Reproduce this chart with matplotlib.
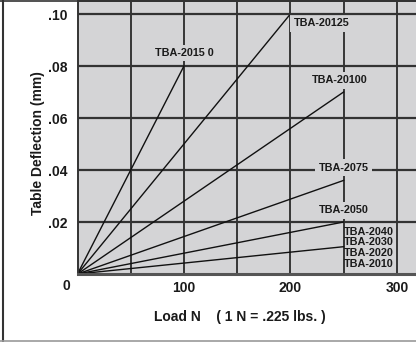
import matplotlib
matplotlib.use('Agg')
import matplotlib.pyplot as plt
from matplotlib.lines import Line2D

plt.rcParams['font.family'] = ['Liberation Sans', 'DejaVu Sans']
plt.rcParams['font.weight'] = 'bold'

# each model: deflection rises linearly from the origin to its end point
models = ['TBA-2015 0', 'TBA-20125', 'TBA-20100', 'TBA-2075', 'TBA-2050', 'TBA-2040']
end_load = [100, 200, 250, 250, 250, 250]
end_defl = [0.08, 0.10, 0.07, 0.036, 0.02, 0.0105]

# labels with a grey box that breaks the grid
boxed_labels = ['TBA-2015 0', 'TBA-20125', 'TBA-20100', 'TBA-2075', 'TBA-2050']
boxed_x = [100, 229, 246, 250, 250]
boxed_y = [0.085, 0.0965, 0.0746, 0.0408, 0.0246]

# stacked labels for the lowest line
stack_labels = ['TBA-2040', 'TBA-2030', 'TBA-2020', 'TBA-2010']
stack_y = [0.0162, 0.0122, 0.0081, 0.0039]

yticks = [0.02, 0.04, 0.06, 0.08, 0.10]
ytick_labels = ['.02', '.04', '.06', '.08', '.10']
xticks = [100, 200, 300]
xgrid = [50, 100, 150, 200, 250, 300]

bg = '#d4d4d6'
gridc = '#2a2a2a'

fig = plt.figure(figsize=(4.16, 3.42), dpi=100)
fig.patch.set_facecolor('white')
ax = fig.add_axes([77.5 / 416, 68 / 342, 1 - 77.5 / 416, 273 / 342])
ax.set_facecolor(bg)
ax.set_xlim(0, 318)
ax.set_ylim(0, 0.105)

for gx in xgrid:
    ax.axvline(gx, color=gridc, lw=1.3, zorder=1)
for gy in yticks:
    # top line stays above the label boxes
    ax.axhline(gy, color='#333333', lw=1.6, zorder=4 if gy == 0.10 else 1)

for name, lx, ly in zip(models, end_load, end_defl):
    ax.plot([0, lx], [0, ly], color='#111111', lw=1.0, zorder=2)

for t, x, y in zip(boxed_labels, boxed_x, boxed_y):
    ax.text(x, y, t, ha='center', va='center', fontsize=7.8, color='#1a1a1a',
            bbox=dict(facecolor=bg, edgecolor='none', pad=2.5), zorder=3)

for t, y in zip(stack_labels, stack_y):
    ax.text(250.5, y, t, ha='left', va='center', fontsize=7.8, color='#1a1a1a', zorder=3)

ax.set_yticks(yticks)
ax.set_yticklabels(ytick_labels)
ax.set_xticks(xticks)
ax.set_xticklabels([str(v) for v in xticks])
ax.tick_params(length=0, labelsize=10, colors='#1a1a1a')
ax.tick_params(axis='y', pad=7)
ax.tick_params(axis='x', pad=5)

for s in ['left', 'top']:
    ax.spines[s].set_color('#333333')
    ax.spines[s].set_linewidth(1.4)
ax.spines['right'].set_visible(False)
ax.spines['bottom'].set_color('#555555')
ax.spines['bottom'].set_linewidth(2.2)

fig.text(66 / 416, 1 - 286 / 342, '0', ha='center', va='center', fontsize=10, color='#1a1a1a')
fig.text(38 / 416, 1 - 143 / 342, 'Table Deflection (mm)', rotation=90, ha='center',
         va='center', fontsize=10, color='#1a1a1a')
fig.text(240 / 416, 1 - 317 / 342, 'Load N    ( 1 N = .225 lbs. )', ha='center',
         va='center', fontsize=10, color='#1a1a1a')

# frame around the whole picture
fig.add_artist(Line2D([3 / 416, 3 / 416], [0, 1], transform=fig.transFigure, color='#333333', lw=1.5))
fig.add_artist(Line2D([0, 1], [0.998, 0.998], transform=fig.transFigure, color='#333333', lw=1.2))
fig.add_artist(Line2D([0, 1], [1 / 342, 1 / 342], transform=fig.transFigure, color='#9a9a9a', lw=1.2))

fig.savefig('out.png', dpi=100)
